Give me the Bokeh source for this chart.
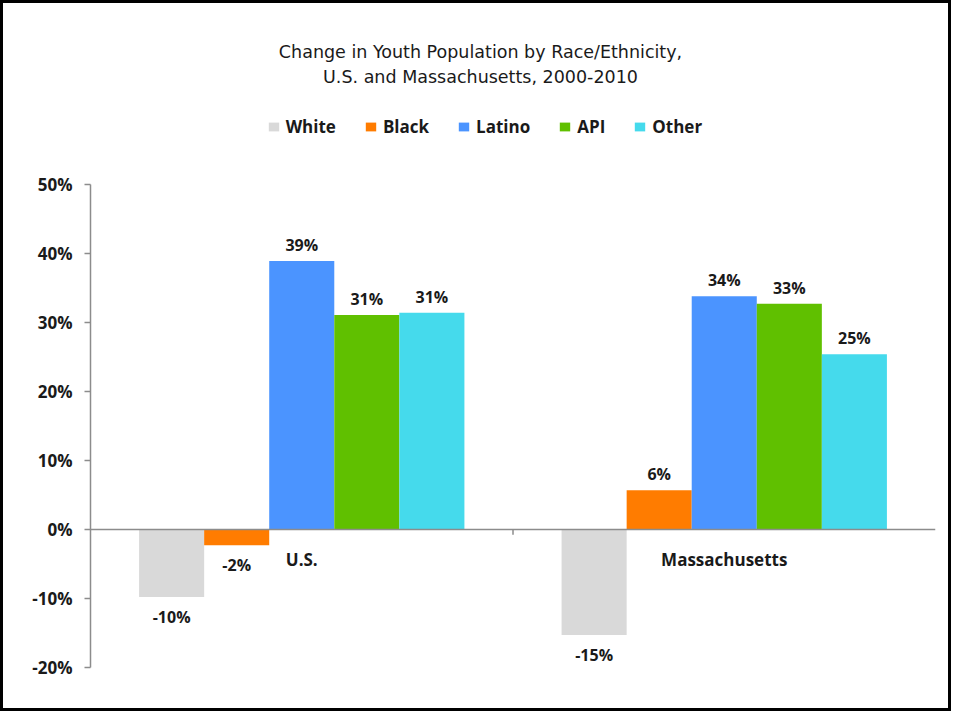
from bokeh.plotting import figure
from bokeh.models import ColumnDataSource, FactorRange, Range1d, FixedTicker, Label
from bokeh.transform import dodge
from bokeh.core.properties import value
from bokeh.embed import file_html
from bokeh.resources import INLINE

# ---- data ----
regions = ["U.S.", "Massachusetts"]
races = ["White", "Black", "Latino", "API", "Other"]
white = [-9.8, -15.3]
black = [-2.3, 5.7]
latino = [38.9, 33.8]
api = [31.1, 32.7]
other = [31.4, 25.4]
y_ticks = [-20, -10, 0, 10, 20, 30, 40, 50]
title_line1 = "Change in Youth Population by Race/Ethnicity,"
title_line2 = "U.S. and Massachusetts, 2000-2010"
colors = ["#D9D9D9", "#FF7C00", "#4B94FF", "#60C000", "#45DAEC"]

series = [white, black, latino, api, other]

BOLD_FONT = "Open Sans"
TXT = "#1A1A1A"
AXIS = "#8C8C8C"

# frame spans the full canvas height; the y axis itself is bounded to -20..50
p = figure(width=951, height=711,
           x_range=FactorRange(*regions, range_padding=0, factor_padding=0),
           y_range=Range1d(-20, 76.23),
           output_backend="svg", toolbar_location=None,
           min_border_left=87, min_border_right=19,
           min_border_top=0, min_border_bottom=47)
p.styles = {"border": "3px solid black"}
p.outline_line_color = None
p.grid.visible = False
p.background_fill_color = "white"
p.border_fill_color = "white"

bar_w = 0.154
for i, (race, vals, col) in enumerate(zip(races, series, colors)):
    off = (i - 2) * bar_w
    src = ColumnDataSource(dict(
        region=regions,
        val=vals,
        lbl=[f"{round(v)}%" for v in vals],
        yoff=[-16 if v >= 0 else 19.5 for v in vals],
    ))
    p.vbar(x=dodge("region", off, range=p.x_range), top="val", bottom=0,
           width=bar_w, source=src, fill_color=col, line_color=None,
           legend_label=race)
    p.text(x=dodge("region", off, range=p.x_range), y="val", text="lbl",
           y_offset="yoff", source=src, text_align="center",
           text_baseline="alphabetic", text_font=value(BOLD_FONT),
           text_font_style="bold", text_font_size="16px", text_color=TXT)

# middle tick on category axis
mid = ColumnDataSource(dict(region=[regions[0]], y0=[0], y1=[-0.75]))
p.segment(x0=dodge("region", 0.5, range=p.x_range), y0="y0",
          x1=dodge("region", 0.5, range=p.x_range), y1="y1",
          source=mid, line_color=AXIS, line_width=1.5)

# y axis
ya = p.yaxis[0]
ya.ticker = FixedTicker(ticks=y_ticks)
ya.bounds = (y_ticks[0], y_ticks[-1])
ya.major_label_overrides = {t: f"{t}%" for t in y_ticks}
ya.minor_tick_line_color = None
ya.major_tick_in = 0
ya.major_tick_out = 6
ya.axis_line_color = AXIS
ya.axis_line_width = 1.5
ya.major_tick_line_color = AXIS
ya.major_tick_line_width = 1.5
ya.major_label_standoff = 12
ya.major_label_text_font = BOLD_FONT
ya.major_label_text_font_style = "bold"
ya.major_label_text_font_size = "17px"
ya.major_label_text_color = TXT

# x axis at zero
xa = p.xaxis[0]
xa.fixed_location = 0
xa.major_tick_line_color = None
xa.minor_tick_line_color = None
xa.axis_line_color = AXIS
xa.axis_line_width = 1.5
xa.major_label_standoff = 13
xa.major_label_text_font = BOLD_FONT
xa.major_label_text_font_style = "bold"
xa.major_label_text_font_size = "17px"
xa.major_label_text_color = TXT

# title (screen units relative to the frame's bottom-left)
for txt, yy in [(title_line1, 615.5), (title_line2, 591)]:
    p.add_layout(Label(x=390, y=yy, x_units="screen", y_units="screen",
                       text=txt, text_align="center", text_baseline="middle",
                       text_font="DejaVu Sans", text_font_size="17.5px",
                       text_color=TXT))

# legend
lg = p.legend[0]
lg.orientation = "horizontal"
lg.location = (176.7, 529)
lg.spacing = 28
lg.glyph_width = 13
lg.glyph_height = 11
lg.label_standoff = 6
lg.padding = 0
lg.margin = 0
lg.border_line_color = None
lg.background_fill_alpha = 0
lg.label_text_font = BOLD_FONT
lg.label_text_font_style = "bold"
lg.label_text_font_size = "17px"
lg.label_text_color = TXT

open("out.html", "w").write(file_html(p, INLINE))
